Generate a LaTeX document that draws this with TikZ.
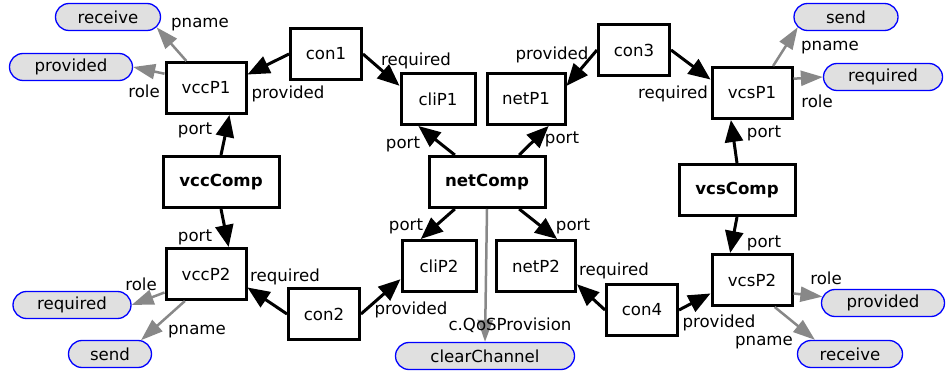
\documentclass[tikz,border=0pt]{standalone}
\usepackage{fontspec}
\setmainfont{DejaVu Sans}
\usetikzlibrary{arrows.meta,shapes.misc}
\definecolor{edgegray}{RGB}{136,136,136}
\definecolor{valfill}{RGB}{224,224,224}

\begin{document}
\begin{tikzpicture}[x=1pt, y=-1pt,
  txt/.style = {font=\fontsize{16.6}{20}\selectfont},
  box/.style = {txt, draw, line width=3pt, inner sep=0pt, minimum height=51pt},
  comp/.style = {box, minimum width=116pt, font=\fontsize{16.6}{20}\selectfont\bfseries},
  val/.style = {txt, draw=blue, fill=valfill, line width=1.3pt, rounded rectangle, inner sep=0pt, minimum height=27pt},
  link/.style = {line width=3pt, -{Triangle[length=22pt,width=18pt]}},
  attr/.style = {draw=edgegray, line width=2.5pt, -{Triangle[length=22pt,width=15pt]}},
  lbl/.style = {txt, inner sep=0pt, yshift=-2pt}
]
\useasboundingbox (0,0) rectangle (948,382);

% components
\node[comp] (vccComp) at (221,182) {vccComp};
\node[comp] (netComp) at (487,182) {netComp};
\node[comp] (vcsComp) at (737,190) {vcsComp};

% ports
\node[box, minimum width=80pt] (vccP1) at (206,88) {vccP1};
\node[box, minimum width=80pt] (vccP2) at (206,274) {vccP2};
\node[box, minimum width=74pt] (cliP1) at (438,99) {cliP1};
\node[box, minimum width=74pt] (cliP2) at (439,266) {cliP2};
\node[box, minimum width=78pt] (netP1) at (526,99) {netP1};
\node[box, minimum width=79pt] (netP2) at (536,266) {netP2};
\node[box, minimum width=80pt] (vcsP1) at (752,93) {vcsP1};
\node[box, minimum width=80pt] (vcsP2) at (752,280) {vcsP2};

% connectors
\node[box, minimum width=71pt] (con1) at (326,54) {con1};
\node[box, minimum width=71pt] (con2) at (324,314) {con2};
\node[box, minimum width=71pt] (con3) at (634,50) {con3};
\node[box, minimum width=71pt] (con4) at (642,310) {con4};

% values
\node[val, minimum width=105pt] (rcv1) at (108,17) {receive};
\node[val, minimum width=123pt] (prov1) at (71,67) {provided};
\node[val, minimum width=118pt] (req1) at (72,305) {required};
\node[val, minimum width=83pt] (send1) at (110,354) {send};
\node[val, minimum width=179pt] (chan) at (485,356) {clearChannel};
\node[val, minimum width=104pt] (send2) at (846,17) {send};
\node[val, minimum width=119pt] (req2) at (883,77) {required};
\node[val, minimum width=123pt] (prov2) at (883,303) {provided};
\node[val, minimum width=105pt] (rcv2) at (850,354) {receive};

\draw[link] (con1.west) -- (vccP1.18) node[lbl] (l1) at (288,92) {provided};
\draw[link] (con1.east) -- (cliP1.161) node[lbl] (l2) at (416,59) {required};
\draw[link] (con2.west) -- (vccP2.-18) node[lbl] (l3) at (285,275) {required};
\draw[link] (con2.east) -- (cliP2.199) node[lbl] (l4) at (411,308) {provided};
\draw[link] (con3.west) -- (netP1.18) node[lbl] (l5) at (552,53) {provided};
\draw[link] (con3.east) -- (vcsP1.162) node[lbl] (l6) at (673,92) {required};
\draw[link] (con4.west) -- (netP2.-24) node[lbl] (l7) at (614,269) {required};
\draw[link] (con4.east) -- (vcsP2.198) node[lbl] (l8) at (719,321) {provided};

\draw[link] (vccComp.north) -- (vccP1.-49) node[lbl] (l9) at (195,128) {port};
\draw[link] (vccComp.south) -- (vccP2.50) node[lbl] (l10) at (195,235) {port};
\draw[link] (netComp.140) -- (cliP1.234) node[lbl] (l11) at (403,142) {port};
\draw[link] (netComp.40) -- (netP1.-50) node[lbl] (l12) at (562,137) {port};
\draw[link] (netComp.220) -- (cliP2.124) node[lbl] (l13) at (406,224) {port};
\draw[link] (netComp.-40) -- (netP2.52) node[lbl] (l14) at (573,224) {port};
\draw[link] (vcsComp.north) -- (vcsP1.232) node[lbl] (l15) at (764,131) {port};
\draw[link] (vcsComp.south) -- (vcsP2.129) node[lbl] (l16) at (764,241) {port};

\draw[attr] (netComp.south) -- (chan.north) node[lbl] (l17) at (510,323) {c.QoSProvision};
\draw[attr] (vccP1.126) -- (rcv1.-12) node[lbl] (l18) at (200,23) {pname};
\draw[attr] (vccP1.161) -- (prov1.east) node[lbl] (l19) at (144,89) {role};
\draw[attr] (vccP2.204) -- (req1.east) node[lbl] (l20) at (141,282) {role};
\draw[attr] (vccP2.232) -- (send1.24) node[lbl] (l21) at (197,330) {pname};
\draw[attr] (vcsP1.52) -- (send2.192) node[lbl] (l22) at (830,46) {pname};
\draw[attr] (vcsP1.19) -- (req2.west) node[lbl] (l23) at (817,99) {role};
\draw[attr] (vcsP2.-18) -- (prov2.174) node[lbl] (l24) at (826,276) {role};
\draw[attr] (vcsP2.-50) -- (rcv2.158) node[lbl] (l25) at (764,341) {pname};

\end{tikzpicture}
\end{document}
